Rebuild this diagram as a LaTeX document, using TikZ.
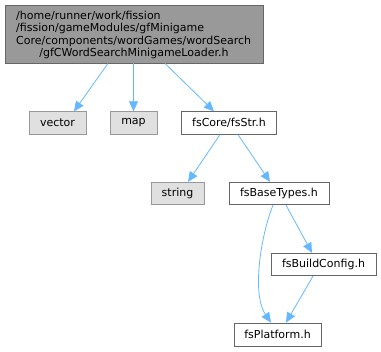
\documentclass[tikz,border=0pt]{standalone}
\usepackage{fontspec}
\setmainfont{DejaVu Sans}
\usetikzlibrary{arrows.meta}
\definecolor{edgeblue}{HTML}{63B8FF}
\definecolor{topfill}{HTML}{999999}
\definecolor{darkborder}{HTML}{666666}
\definecolor{sysfill}{HTML}{E0E0E0}
\definecolor{sysborder}{HTML}{999999}
\begin{document}
\begin{tikzpicture}[x=1pt,y=-1pt,
  lbl/.style={font=\fontsize{11}{12.6}\selectfont},
  box/.style={draw=darkborder,fill=white,line width=0.8pt,inner sep=0pt,lbl},
  sysbox/.style={draw=sysborder,fill=sysfill,line width=0.8pt,inner sep=0pt,lbl},
  tline/.style={lbl,inner sep=0pt},
  edge/.style={draw=edgeblue,line width=0.8pt,-{Triangle[length=10pt,width=9pt]}}]
\useasboundingbox (0,0) rectangle (381,352);
\node[box,fill=topfill,minimum width=258pt,minimum height=58pt] (top) at (134,34) {};
\node[tline,anchor=base west] (t1) at (16,19.5) {/home/runner/work/fission};
\node[tline,anchor=base west] (t2) at (16,32) {/fission/gameModules/gfMinigame};
\node[tline,anchor=base west] (t3) at (16,44.5) {Core/components/wordGames/wordSearch};
\node[tline,anchor=base] (t4) at (134,57) {/gfCWordSearchMinigameLoader.h};
\node[sysbox,minimum width=57pt,minimum height=22.5pt] (vector) at (57.5,123) {vector};
\node[sysbox,minimum width=47pt,minimum height=22.5pt] (map) at (133.5,123) {map};
\node[box,minimum width=95pt,minimum height=22.5pt] (fsstr) at (229,123) {fsCore/fsStr.h};
\node[sysbox,minimum width=53pt,minimum height=22.5pt] (string) at (177.5,193.5) {string};
\node[box,minimum width=100pt,minimum height=22.5pt] (base) at (279,193.5) {fsBaseTypes.h};
\node[box,minimum width=105pt,minimum height=22.5pt] (build) at (323.5,264.5) {fsBuildConfig.h};
\node[box,minimum width=87pt,minimum height=23pt] (plat) at (277.5,334.5) {fsPlatform.h};
\draw[edge] (top.south -| 108,0) -- (vector.north -| 74,0);
\draw[edge] (top.south -| 133.5,0) -- (map.north -| 133.5,0);
\draw[edge] (top.south -| 165,0) -- (fsstr.north -| 214,0);
\draw[edge] (fsstr.south -| 220,0) -- (string.north -| 188,0);
\draw[edge] (fsstr.south -| 238,0) -- (base.north -| 270,0);
\draw[edge] (base.south -| 273,0) .. controls (260,238) and (252,295) .. (plat.north -| 271,0);
\draw[edge] (base.south -| 286,0) -- (build.north -| 312,0);
\draw[edge] (build.south -| 313,0) -- (plat.north -| 286,0);
\end{tikzpicture}
\end{document}
